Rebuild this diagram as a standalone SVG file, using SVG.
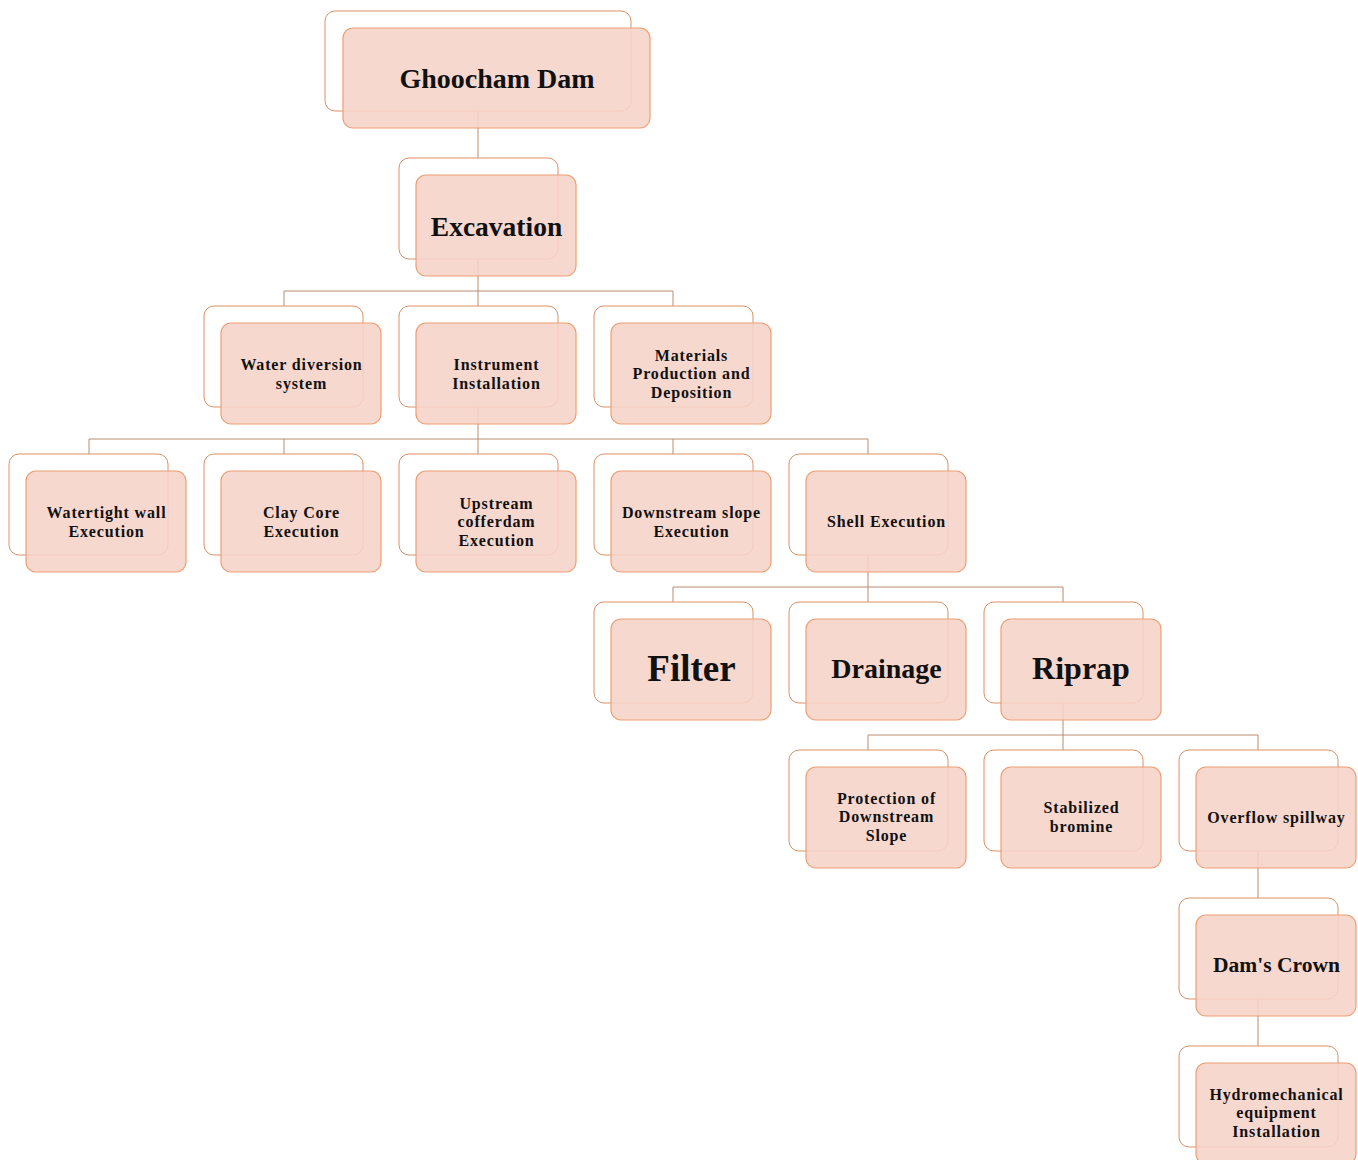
<svg xmlns="http://www.w3.org/2000/svg" width="1358" height="1160" viewBox="0 0 1358 1160">
<defs>
<style>
.bk{fill:#FFFFFF;stroke:#DC9064;stroke-width:1}
.fr{fill:#F6D3C8;fill-opacity:0.88;stroke:#EE9E72;stroke-width:1.2}
.t{font-family:"Liberation Serif","Times New Roman",serif;font-weight:bold;fill:#111;text-anchor:middle}
.s{font-size:16px;letter-spacing:0.85px}
.c{fill:none;stroke:#B88C70;stroke-width:1}
</style>
</defs>
<rect width="1358" height="1160" fill="#FFFFFF"/>
<g id="connectors">
<path class="c" d="M478,111V158"/>
<path class="c" d="M478,259V291M284,306V291H673V306M478,291V306"/>
<path class="c" d="M478,407V439M89,454V439H868V454M284,439V454M478,439V454M673,439V454"/>
<path class="c" d="M868,555V587M673,602V587H1063V602M868,587V602"/>
<path class="c" d="M1063,703V735M868,750V735H1258V750M1063,735V750"/>
<path class="c" d="M1258,851V898"/>
<path class="c" d="M1258,999V1046"/>
</g>
<g id="n-ghoocham">
<rect class="bk" x="325" y="11" width="306" height="100" rx="10"/>
<rect class="fr" x="343" y="28" width="307" height="100" rx="10"/>
<text class="t" x="497" y="87.5" font-size="28">Ghoocham Dam</text>
</g>
<g id="n-excavation">
<rect class="bk" x="399" y="158" width="159" height="101" rx="10"/>
<rect class="fr" x="416" y="175" width="160" height="101" rx="10"/>
<text class="t" x="496.5" y="235.5" font-size="27.5">Excavation</text>
</g>
<g id="n-water">
<rect class="bk" x="204" y="306" width="159" height="101" rx="10"/>
<rect class="fr" x="221" y="323" width="160" height="101" rx="10"/>
<text class="t s" x="301.5" y="369.5">Water diversion</text>
<text class="t s" x="301.5" y="388.5">system</text>
</g>
<g id="n-instrument">
<rect class="bk" x="399" y="306" width="159" height="101" rx="10"/>
<rect class="fr" x="416" y="323" width="160" height="101" rx="10"/>
<text class="t s" x="496.5" y="369.5">Instrument</text>
<text class="t s" x="496.5" y="388.5">Installation</text>
</g>
<g id="n-materials">
<rect class="bk" x="594" y="306" width="159" height="101" rx="10"/>
<rect class="fr" x="611" y="323" width="160" height="101" rx="10"/>
<text class="t s" x="691.5" y="360.5">Materials</text>
<text class="t s" x="691.5" y="379">Production and</text>
<text class="t s" x="691.5" y="397.5">Deposition</text>
</g>
<g id="n-watertight">
<rect class="bk" x="9" y="454" width="159" height="101" rx="10"/>
<rect class="fr" x="26" y="471" width="160" height="101" rx="10"/>
<text class="t s" x="106.5" y="517.5">Watertight wall</text>
<text class="t s" x="106.5" y="536.5">Execution</text>
</g>
<g id="n-clay">
<rect class="bk" x="204" y="454" width="159" height="101" rx="10"/>
<rect class="fr" x="221" y="471" width="160" height="101" rx="10"/>
<text class="t s" x="301.5" y="517.5">Clay Core</text>
<text class="t s" x="301.5" y="536.5">Execution</text>
</g>
<g id="n-upstream">
<rect class="bk" x="399" y="454" width="159" height="101" rx="10"/>
<rect class="fr" x="416" y="471" width="160" height="101" rx="10"/>
<text class="t s" x="496.5" y="508.5">Upstream</text>
<text class="t s" x="496.5" y="527">cofferdam</text>
<text class="t s" x="496.5" y="545.5">Execution</text>
</g>
<g id="n-downstream">
<rect class="bk" x="594" y="454" width="159" height="101" rx="10"/>
<rect class="fr" x="611" y="471" width="160" height="101" rx="10"/>
<text class="t s" x="691.5" y="517.5">Downstream slope</text>
<text class="t s" x="691.5" y="536.5">Execution</text>
</g>
<g id="n-shell">
<rect class="bk" x="789" y="454" width="159" height="101" rx="10"/>
<rect class="fr" x="806" y="471" width="160" height="101" rx="10"/>
<text class="t s" x="886.5" y="527">Shell Execution</text>
</g>
<g id="n-filter">
<rect class="bk" x="594" y="602" width="159" height="101" rx="10"/>
<rect class="fr" x="611" y="619" width="160" height="101" rx="10"/>
<text class="t" x="691.5" y="681" font-size="37">Filter</text>
</g>
<g id="n-drainage">
<rect class="bk" x="789" y="602" width="159" height="101" rx="10"/>
<rect class="fr" x="806" y="619" width="160" height="101" rx="10"/>
<text class="t" x="886.5" y="678" font-size="28">Drainage</text>
</g>
<g id="n-riprap">
<rect class="bk" x="984" y="602" width="159" height="101" rx="10"/>
<rect class="fr" x="1001" y="619" width="160" height="101" rx="10"/>
<text class="t" x="1081" y="679" font-size="32">Riprap</text>
</g>
<g id="n-protection">
<rect class="bk" x="789" y="750" width="159" height="101" rx="10"/>
<rect class="fr" x="806" y="767" width="160" height="101" rx="10"/>
<text class="t s" x="886.5" y="803.5">Protection of</text>
<text class="t s" x="886.5" y="822">Downstream</text>
<text class="t s" x="886.5" y="840.5">Slope</text>
</g>
<g id="n-stabilized">
<rect class="bk" x="984" y="750" width="159" height="101" rx="10"/>
<rect class="fr" x="1001" y="767" width="160" height="101" rx="10"/>
<text class="t s" x="1081.5" y="812.5">Stabilized</text>
<text class="t s" x="1081.5" y="831.5">bromine</text>
</g>
<g id="n-overflow">
<rect class="bk" x="1179" y="750" width="159" height="101" rx="10"/>
<rect class="fr" x="1196" y="767" width="160" height="101" rx="10"/>
<text class="t s" x="1276.5" y="822.5">Overflow spillway</text>
</g>
<g id="n-crown">
<rect class="bk" x="1179" y="898" width="159" height="101" rx="10"/>
<rect class="fr" x="1196" y="915" width="160" height="101" rx="10"/>
<text class="t" x="1276.5" y="971.5" font-size="21.5">Dam's Crown</text>
</g>
<g id="n-hydro">
<rect class="bk" x="1179" y="1046" width="159" height="101" rx="10"/>
<rect class="fr" x="1196" y="1063" width="160" height="101" rx="10"/>
<text class="t s" x="1276.5" y="1099.5">Hydromechanical</text>
<text class="t s" x="1276.5" y="1118">equipment</text>
<text class="t s" x="1276.5" y="1136.5">Installation</text>
</g>
</svg>
